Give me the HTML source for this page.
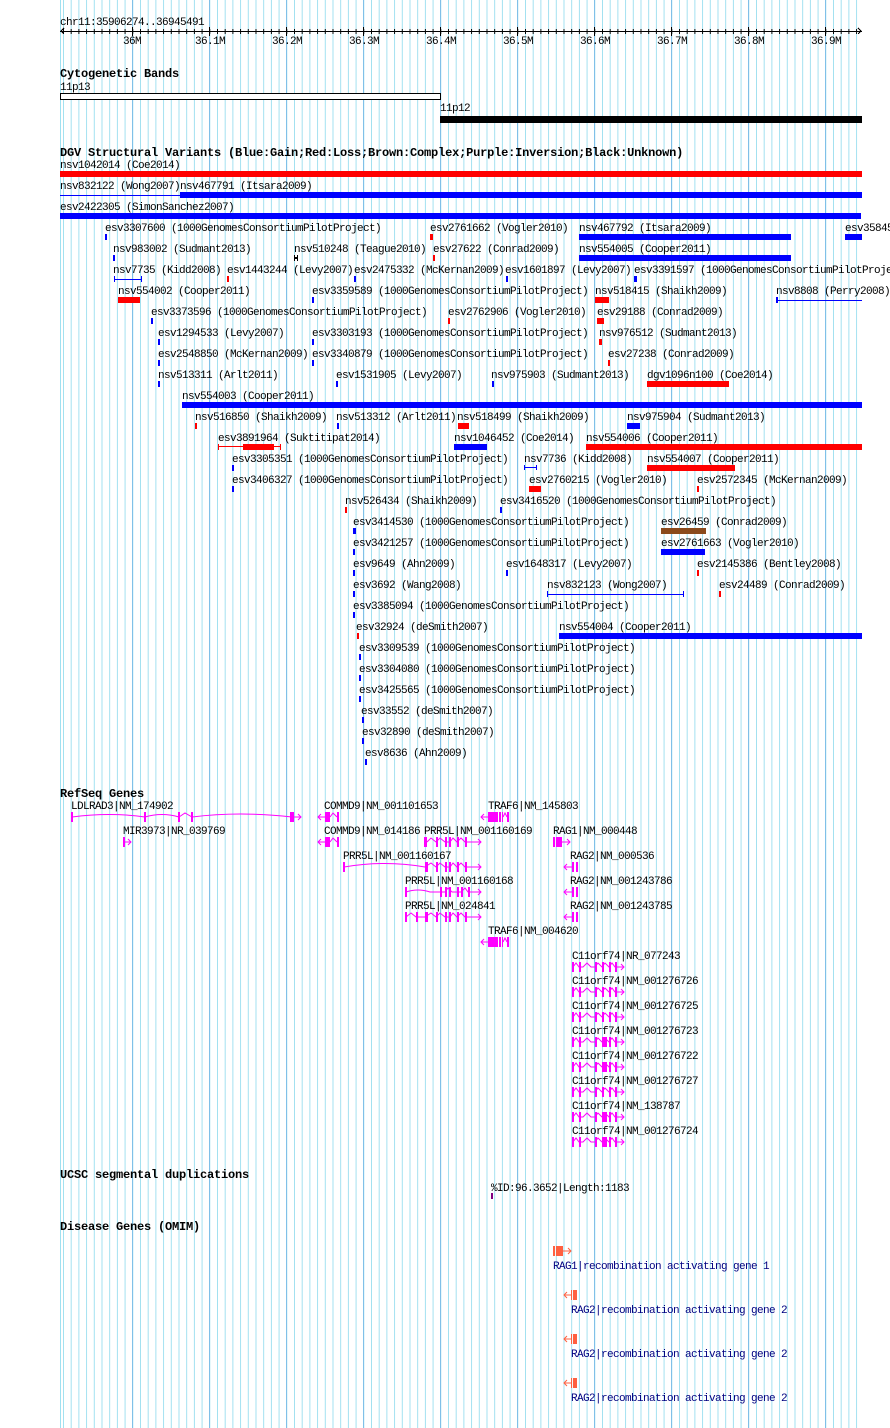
<!DOCTYPE html>
<html><head><meta charset="utf-8"><style>
html,body{margin:0;padding:0;background:#fff;}
svg{display:block;}
text{font-family:"Liberation Mono",monospace;font-size:11px;letter-spacing:-0.6px;fill:#000;}
.h{font-weight:bold;font-size:12px;letter-spacing:-0.2px;}
.n{fill:#000080;}
</style></head><body>
<svg width="890" height="1428" viewBox="0 0 890 1428" xmlns="http://www.w3.org/2000/svg" shape-rendering="crispEdges">
<defs>
<pattern id="g" x="63" y="0" width="7.7" height="20" patternUnits="userSpaceOnUse"><rect x="0" y="0" width="1" height="20" fill="#a0e0f0"/></pattern>
<pattern id="t" x="63" y="0" width="7.7" height="20" patternUnits="userSpaceOnUse"><rect x="0" y="0" width="1" height="20" fill="#000"/></pattern>
</defs>
<rect x="60" y="0" width="802" height="1428" fill="url(#g)"/>
<rect x="60" y="0" width="1" height="1428" fill="#a0e0f0"/>
<g fill="#80c0e8">
<rect x="132" y="0" width="1" height="1428"/><rect x="209" y="0" width="1" height="1428"/><rect x="286" y="0" width="1" height="1428"/><rect x="363" y="0" width="1" height="1428"/><rect x="440" y="0" width="1" height="1428"/><rect x="517" y="0" width="1" height="1428"/><rect x="594" y="0" width="1" height="1428"/><rect x="671" y="0" width="1" height="1428"/><rect x="748" y="0" width="1" height="1428"/><rect x="825" y="0" width="1" height="1428"/>
</g>

<!-- ruler -->
<text x="60" y="25">chr11:35906274..36945491</text>
<rect x="60" y="31" width="802" height="1" fill="#000"/>
<rect x="63" y="29" width="797" height="5" fill="url(#t)"/>
<g fill="#000"><rect x="132" y="27" width="1" height="9"/><rect x="209" y="27" width="1" height="9"/><rect x="286" y="27" width="1" height="9"/><rect x="363" y="27" width="1" height="9"/><rect x="440" y="27" width="1" height="9"/><rect x="517" y="27" width="1" height="9"/><rect x="594" y="27" width="1" height="9"/><rect x="671" y="27" width="1" height="9"/><rect x="748" y="27" width="1" height="9"/><rect x="825" y="27" width="1" height="9"/></g>
<path d="M64 28 L61 31 L64 34 M858 28 L861 31 L858 34" stroke="#000" fill="none"/>
<g text-anchor="middle"><text x="132" y="44">36M</text><text x="210" y="44">36.1M</text><text x="287" y="44">36.2M</text><text x="364" y="44">36.3M</text><text x="441" y="44">36.4M</text><text x="518" y="44">36.5M</text><text x="595" y="44">36.6M</text><text x="672" y="44">36.7M</text><text x="749" y="44">36.8M</text><text x="826" y="44">36.9M</text></g>

<!-- cytobands -->
<text class="h" x="60" y="77">Cytogenetic Bands</text>
<text x="60" y="90">11p13</text>
<rect x="60.5" y="93.5" width="380" height="6" fill="#fff" stroke="#000"/>
<text x="440" y="111">11p12</text>
<rect x="440" y="116" width="422" height="7" fill="#000"/>

<!-- DGV -->
<text class="h" x="60" y="156">DGV Structural Variants (Blue:Gain;Red:Loss;Brown:Complex;Purple:Inversion;Black:Unknown)</text>
<g>
<text x="60" y="168">nsv1042014 (Coe2014)</text>
<text x="60" y="189">nsv832122 (Wong2007)</text><text x="180" y="189">nsv467791 (Itsara2009)</text>
<text x="60" y="210">esv2422305 (SimonSanchez2007)</text>
<text x="105" y="231">esv3307600 (1000GenomesConsortiumPilotProject)</text><text x="430" y="231">esv2761662 (Vogler2010)</text><text x="579" y="231">nsv467792 (Itsara2009)</text><text x="845" y="231">esv35845</text>
<text x="113" y="252">nsv983002 (Sudmant2013)</text><text x="294" y="252">nsv510248 (Teague2010)</text><text x="433" y="252">esv27622 (Conrad2009)</text><text x="579" y="252">nsv554005 (Cooper2011)</text>
<text x="113" y="273">nsv7735 (Kidd2008)</text><text x="227" y="273">esv1443244 (Levy2007)</text><text x="354" y="273">esv2475332 (McKernan2009)</text><text x="505" y="273">esv1601897 (Levy2007)</text><text x="634" y="273">esv3391597 (1000GenomesConsortiumPilotProject)</text>
<text x="118" y="294">nsv554002 (Cooper2011)</text><text x="312" y="294">esv3359589 (1000GenomesConsortiumPilotProject)</text><text x="595" y="294">nsv518415 (Shaikh2009)</text><text x="776" y="294">nsv8808 (Perry2008)</text>
<text x="151" y="315">esv3373596 (1000GenomesConsortiumPilotProject)</text><text x="448" y="315">esv2762906 (Vogler2010)</text><text x="597" y="315">esv29188 (Conrad2009)</text>
<text x="158" y="336">esv1294533 (Levy2007)</text><text x="312" y="336">esv3303193 (1000GenomesConsortiumPilotProject)</text><text x="599" y="336">nsv976512 (Sudmant2013)</text>
<text x="158" y="357">esv2548850 (McKernan2009)</text><text x="312" y="357">esv3340879 (1000GenomesConsortiumPilotProject)</text><text x="608" y="357">esv27238 (Conrad2009)</text>
<text x="158" y="378">nsv513311 (Arlt2011)</text><text x="336" y="378">esv1531905 (Levy2007)</text><text x="491" y="378">nsv975903 (Sudmant2013)</text><text x="647" y="378">dgv1096n100 (Coe2014)</text>
<text x="182" y="399">nsv554003 (Cooper2011)</text>
<text x="195" y="420">nsv516850 (Shaikh2009)</text><text x="336" y="420">nsv513312 (Arlt2011)</text><text x="457" y="420">nsv518499 (Shaikh2009)</text><text x="627" y="420">nsv975904 (Sudmant2013)</text>
<text x="218" y="441">esv3891964 (Suktitipat2014)</text><text x="454" y="441">nsv1046452 (Coe2014)</text><text x="586" y="441">nsv554006 (Cooper2011)</text>
<text x="232" y="462">esv3305351 (1000GenomesConsortiumPilotProject)</text><text x="524" y="462">nsv7736 (Kidd2008)</text><text x="647" y="462">nsv554007 (Cooper2011)</text>
<text x="232" y="483">esv3406327 (1000GenomesConsortiumPilotProject)</text><text x="529" y="483">esv2760215 (Vogler2010)</text><text x="697" y="483">esv2572345 (McKernan2009)</text>
<text x="345" y="504">nsv526434 (Shaikh2009)</text><text x="500" y="504">esv3416520 (1000GenomesConsortiumPilotProject)</text>
<text x="353" y="525">esv3414530 (1000GenomesConsortiumPilotProject)</text><text x="661" y="525">esv26459 (Conrad2009)</text>
<text x="353" y="546">esv3421257 (1000GenomesConsortiumPilotProject)</text><text x="661" y="546">esv2761663 (Vogler2010)</text>
<text x="353" y="567">esv9649 (Ahn2009)</text><text x="506" y="567">esv1648317 (Levy2007)</text><text x="697" y="567">esv2145386 (Bentley2008)</text>
<text x="353" y="588">esv3692 (Wang2008)</text><text x="547" y="588">nsv832123 (Wong2007)</text><text x="719" y="588">esv24489 (Conrad2009)</text>
<text x="353" y="609">esv3385094 (1000GenomesConsortiumPilotProject)</text>
<text x="356" y="630">esv32924 (deSmith2007)</text><text x="559" y="630">nsv554004 (Cooper2011)</text>
<text x="359" y="651">esv3309539 (1000GenomesConsortiumPilotProject)</text>
<text x="359" y="672">esv3304080 (1000GenomesConsortiumPilotProject)</text>
<text x="359" y="693">esv3425565 (1000GenomesConsortiumPilotProject)</text>
<text x="361" y="714">esv33552 (deSmith2007)</text>
<text x="362" y="735">esv32890 (deSmith2007)</text>
<text x="365" y="756">esv8636 (Ahn2009)</text>
</g>
<g fill="#ff0000">
<rect x="60" y="171" width="802" height="6"/>
<rect x="430" y="234" width="3" height="6"/>
<rect x="433" y="255" width="2" height="6"/>
<rect x="227" y="276" width="2" height="6"/>
<rect x="118" y="297" width="22" height="6"/>
<rect x="595" y="297" width="14" height="6"/>
<rect x="448" y="318" width="2" height="6"/>
<rect x="597" y="318" width="7" height="6"/>
<rect x="599" y="339" width="3" height="6"/>
<rect x="608" y="360" width="2" height="6"/>
<rect x="647" y="381" width="82" height="6"/>
<rect x="195" y="423" width="2" height="6"/>
<rect x="458" y="423" width="11" height="6"/>
<rect x="243" y="444" width="31" height="6"/><rect x="218" y="446" width="62" height="1"/><rect x="218" y="444" width="1" height="6"/><rect x="280" y="444" width="1" height="6"/>
<rect x="586" y="444" width="276" height="6"/>
<rect x="647" y="465" width="88" height="6"/>
<rect x="529" y="486" width="12" height="6"/>
<rect x="697" y="486" width="2" height="6"/>
<rect x="345" y="507" width="2" height="6"/>
<rect x="697" y="570" width="2" height="6"/>
<rect x="719" y="591" width="2" height="6"/>
<rect x="357" y="633" width="2" height="6"/>
</g>
<g fill="#0000ff">
<rect x="60" y="195" width="120" height="1"/><rect x="180" y="192" width="2" height="6"/><rect x="180" y="192" width="682" height="6"/>
<rect x="60" y="213" width="801" height="6"/>
<rect x="105" y="234" width="2" height="6"/><rect x="579" y="234" width="212" height="6"/><rect x="845" y="234" width="17" height="6"/>
<rect x="113" y="255" width="2" height="6"/><rect x="579" y="255" width="212" height="6"/>
<rect x="114" y="279" width="27" height="1"/><rect x="114" y="276" width="1" height="6"/><rect x="141" y="276" width="1" height="6"/>
<rect x="354" y="276" width="2" height="6"/><rect x="506" y="276" width="2" height="6"/><rect x="634" y="276" width="3" height="6"/>
<rect x="312" y="297" width="2" height="6"/><rect x="776" y="300" width="86" height="1"/><rect x="776" y="297" width="2" height="6"/>
<rect x="151" y="318" width="2" height="6"/>
<rect x="158" y="339" width="2" height="6"/><rect x="312" y="339" width="2" height="6"/>
<rect x="158" y="360" width="2" height="6"/><rect x="312" y="360" width="2" height="6"/>
<rect x="158" y="381" width="2" height="6"/><rect x="336" y="381" width="2" height="6"/><rect x="492" y="381" width="2" height="6"/>
<rect x="182" y="402" width="680" height="6"/>
<rect x="337" y="423" width="2" height="6"/><rect x="627" y="423" width="13" height="6"/>
<rect x="454" y="444" width="33" height="6"/>
<rect x="232" y="465" width="2" height="6"/><rect x="524" y="467" width="13" height="1"/><rect x="524" y="465" width="1" height="5"/><rect x="536" y="465" width="1" height="5"/>
<rect x="232" y="486" width="2" height="6"/>
<rect x="500" y="507" width="2" height="6"/>
<rect x="353" y="528" width="3" height="6"/>
<rect x="353" y="549" width="2" height="6"/><rect x="661" y="549" width="44" height="6"/>
<rect x="353" y="570" width="2" height="6"/><rect x="506" y="570" width="2" height="6"/>
<rect x="353" y="591" width="2" height="6"/><rect x="547" y="594" width="136" height="1"/><rect x="547" y="591" width="1" height="6"/><rect x="683" y="591" width="1" height="6"/>
<rect x="353" y="612" width="2" height="6"/>
<rect x="559" y="633" width="303" height="6"/>
<rect x="359" y="654" width="2" height="6"/><rect x="359" y="675" width="2" height="6"/><rect x="359" y="696" width="2" height="6"/><rect x="362" y="717" width="2" height="6"/><rect x="362" y="738" width="2" height="6"/><rect x="365" y="759" width="2" height="6"/>
</g>
<rect x="661" y="528" width="45" height="6" fill="#8b4a1c"/>
<g fill="#000"><rect x="294" y="255" width="1" height="6"/><rect x="297" y="255" width="1" height="6"/><rect x="294" y="257" width="4" height="2"/></g>

<!-- RefSeq genes -->
<text class="h" x="60" y="797">RefSeq Genes</text>
<g>
<text x="71" y="809">LDLRAD3|NM_174902</text><text x="324" y="809">COMMD9|NM_001101653</text><text x="488" y="809">TRAF6|NM_145803</text>
<text x="123" y="834">MIR3973|NR_039769</text><text x="324" y="834">COMMD9|NM_014186</text><text x="424" y="834">PRR5L|NM_001160169</text><text x="553" y="834">RAG1|NM_000448</text>
<text x="343" y="859">PRR5L|NM_001160167</text><text x="570" y="859">RAG2|NM_000536</text>
<text x="405" y="884">PRR5L|NM_001160168</text><text x="570" y="884">RAG2|NM_001243786</text>
<text x="405" y="909">PRR5L|NM_024841</text><text x="570" y="909">RAG2|NM_001243785</text>
<text x="488" y="934">TRAF6|NM_004620</text>
<text x="572" y="959">C11orf74|NR_077243</text>
<text x="572" y="984">C11orf74|NM_001276726</text>
<text x="572" y="1009">C11orf74|NM_001276725</text>
<text x="572" y="1034">C11orf74|NM_001276723</text>
<text x="572" y="1059">C11orf74|NM_001276722</text>
<text x="572" y="1084">C11orf74|NM_001276727</text>
<text x="572" y="1109">C11orf74|NM_138787</text>
<text x="572" y="1134">C11orf74|NM_001276724</text>
</g>
<g stroke="#ff00ff" fill="none" shape-rendering="auto">
<path d="M72 817 Q110 812 145 817 Q162 812 179 817 L185 813 L192 817 Q240 811 292 817 L301 817 M298 814 L301 817 L298 820"/>
<path d="M124 842 L131 842 M128 839 L131 842 L128 845"/>
<path d="M318 817 L325 817 M321 814 L318 817 L321 820 M330 817 L333 813 L337 817"/>
<path d="M318 842 L325 842 M321 839 L318 842 L321 845 M330 842 L333 838 L337 842"/>
<path d="M481 817 L488 817 M484 814 L481 817 L484 820 M503 817 L505 813 L507 817"/>
<path d="M481 942 L488 942 M484 939 L481 942 L484 945 M503 942 L505 938 L507 942"/>
<path d="M562 842 L570 842 M567 839 L570 842 L567 845"/>
<path d="M427 842 L431 838 L436 842 L440 838 L445 842 L450 842 L453 838 L457 842 L461 838 L465 842 L475 842 L481 842 M478 839 L481 842 L478 845"/>
<path d="M344 867 Q385 860 425 867 L431 863 L436 867 L440 863 L445 867 L450 867 L453 863 L457 867 L461 863 L465 867 L481 867 M478 864 L481 867 L478 870"/>
<path d="M406 892 Q418 888 430 892 L445 892 L448 888 L452 892 L461 892 L465 888 L468 892 L481 892 M478 889 L481 892 L478 895"/>
<path d="M406 917 L411 913 L416 917 L425 917 L431 913 L436 917 L440 913 L445 917 L450 917 L453 913 L457 917 L461 913 L465 917 L481 917 M478 914 L481 917 L478 920"/>
<path d="M564 867 L572 867 M567 864 L564 867 L567 870"/>
<path d="M564 892 L572 892 M567 889 L564 892 L567 895"/>
<path d="M564 917 L572 917 M567 914 L564 917 L567 920"/>
</g>
<g fill="#ff00ff">
<rect x="71" y="812" width="2" height="10"/><rect x="144" y="812" width="2" height="10"/><rect x="178" y="812" width="2" height="10"/><rect x="191" y="812" width="2" height="10"/><rect x="290" y="812" width="4" height="10"/>
<rect x="123" y="837" width="2" height="10"/>
<rect x="325" y="812" width="5" height="10"/><rect x="337" y="812" width="2" height="10"/>
<rect x="325" y="837" width="5" height="10"/><rect x="337" y="837" width="2" height="10"/>
<rect x="488" y="812" width="10" height="10"/><rect x="499" y="812" width="2" height="10"/><rect x="502" y="812" width="1" height="10"/><rect x="507" y="812" width="2" height="10"/>
<rect x="488" y="937" width="10" height="10"/><rect x="499" y="937" width="2" height="10"/><rect x="502" y="937" width="1" height="10"/><rect x="507" y="937" width="2" height="10"/>
<rect x="553" y="837" width="2" height="10"/><rect x="556" y="837" width="6" height="10"/>
<rect x="424" y="837" width="3" height="10"/><rect x="436" y="837" width="2" height="10"/><rect x="445" y="837" width="2" height="10"/><rect x="449" y="837" width="2" height="10"/><rect x="457" y="837" width="2" height="10"/><rect x="465" y="837" width="2" height="10"/>
<rect x="343" y="862" width="2" height="10"/><rect x="425" y="862" width="3" height="10"/><rect x="436" y="862" width="2" height="10"/><rect x="445" y="862" width="2" height="10"/><rect x="449" y="862" width="2" height="10"/><rect x="457" y="862" width="2" height="10"/><rect x="465" y="862" width="2" height="10"/>
<rect x="405" y="887" width="2" height="10"/><rect x="440" y="887" width="2" height="10"/><rect x="445" y="887" width="2" height="10"/><rect x="449" y="887" width="2" height="10"/><rect x="457" y="887" width="2" height="10"/><rect x="461" y="887" width="2" height="10"/><rect x="468" y="887" width="2" height="10"/>
<rect x="405" y="912" width="2" height="10"/><rect x="416" y="912" width="2" height="10"/><rect x="425" y="912" width="3" height="10"/><rect x="436" y="912" width="2" height="10"/><rect x="445" y="912" width="2" height="10"/><rect x="449" y="912" width="2" height="10"/><rect x="457" y="912" width="2" height="10"/><rect x="465" y="912" width="2" height="10"/>
<rect x="572" y="862" width="2" height="10"/><rect x="576" y="862" width="2" height="10"/>
<rect x="572" y="887" width="2" height="10"/><rect x="576" y="887" width="2" height="10"/>
<rect x="572" y="912" width="2" height="10"/><rect x="576" y="912" width="2" height="10"/>
</g>
<g id="c1">
<path d="M573 967 L576 963 L579 967 L583 967 L587 963 L591 967 L595 967 L598 963 L602 967 L605 963 L609 967 L612 963 L615 967 L624 967 M621 964 L624 967 L621 970" stroke="#ff00ff" fill="none" shape-rendering="auto"/>
<g fill="#ff00ff"><rect x="572" y="962" width="2" height="10"/><rect x="579" y="962" width="2" height="10"/><rect x="595" y="962" width="2" height="10"/><rect x="602" y="962" width="2" height="10"/><rect x="609" y="962" width="2" height="10"/><rect x="615" y="962" width="2" height="10"/></g>
</g>
<use href="#c1" y="25"/><use href="#c1" y="50"/><use href="#c1" y="75"/><use href="#c1" y="100"/><use href="#c1" y="125"/><use href="#c1" y="150"/><use href="#c1" y="175"/>
<g fill="#ff00ff"><rect x="603" y="1037" width="4" height="10"/><rect x="603" y="1062" width="4" height="10"/><rect x="603" y="1112" width="4" height="10"/><rect x="603" y="1137" width="4" height="10"/></g>

<!-- segdups -->
<text class="h" x="60" y="1178">UCSC segmental duplications</text>
<text x="491" y="1191">%ID:96.3652|Length:1183</text>
<rect x="491" y="1193" width="2" height="6" fill="#800080"/>

<!-- OMIM -->
<text class="h" x="60" y="1230">Disease Genes (OMIM)</text>
<g fill="#ff6040">
<rect x="553" y="1246" width="2" height="10"/><rect x="556" y="1246" width="7" height="10"/>
<rect x="571" y="1290" width="1" height="10"/><rect x="573" y="1290" width="4" height="10"/>
<rect x="571" y="1334" width="1" height="10"/><rect x="573" y="1334" width="4" height="10"/>
<rect x="571" y="1378" width="1" height="10"/><rect x="573" y="1378" width="4" height="10"/>
</g>
<g stroke="#ff6040" fill="none" shape-rendering="auto">
<path d="M563 1251 L571 1251 M568 1248 L571 1251 L568 1254"/>
<path d="M564 1295 L571 1295 M567 1292 L564 1295 L567 1298"/>
<path d="M564 1339 L571 1339 M567 1336 L564 1339 L567 1342"/>
<path d="M564 1383 L571 1383 M567 1380 L564 1383 L567 1386"/>
</g>
<text class="n" x="553" y="1269">RAG1|recombination activating gene 1</text>
<text class="n" x="571" y="1313">RAG2|recombination activating gene 2</text>
<text class="n" x="571" y="1357">RAG2|recombination activating gene 2</text>
<text class="n" x="571" y="1401">RAG2|recombination activating gene 2</text>
</svg>
</body></html>
